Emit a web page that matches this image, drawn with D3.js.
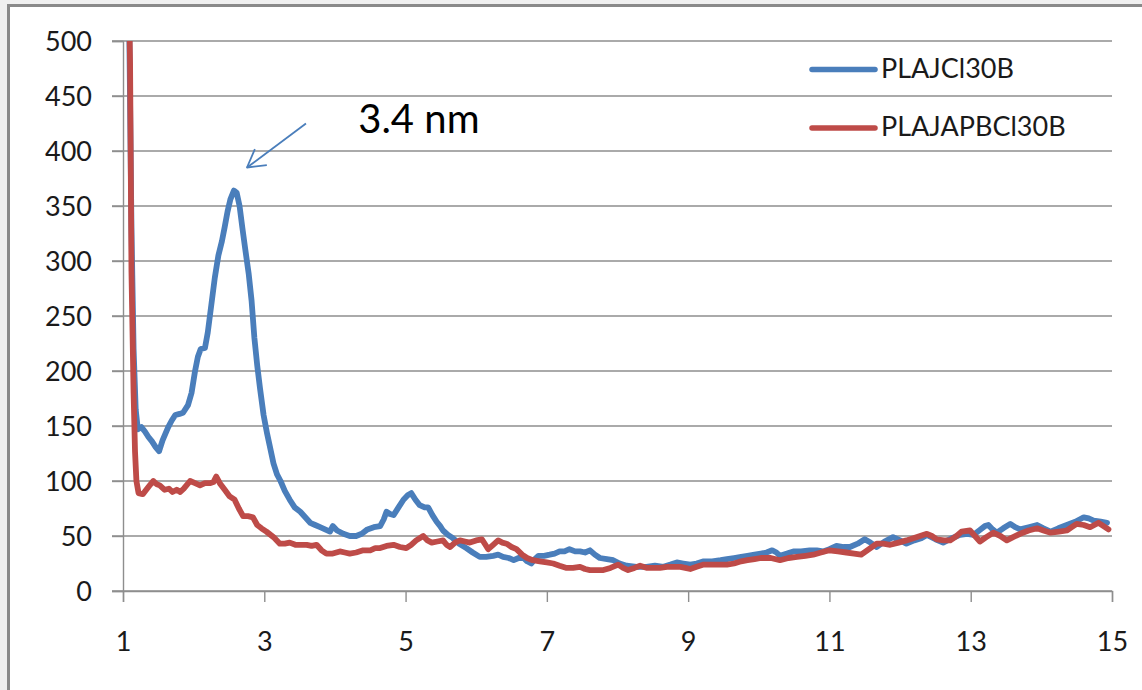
<!DOCTYPE html>
<html>
<head>
<meta charset="utf-8">
<script src="https://cdn.jsdelivr.net/npm/d3@7"></script>
<style>
  body { margin: 0; background: #f0f0f0; }
  svg { display: block; font-family: Lato, "Open Sans", sans-serif; }
</style>
</head>
<body>
<svg id="chart"></svg>
<script>
// series values, [x, y]
var blueData = [[1.08,560],[1.12,330],[1.15,220],[1.18,165],[1.21,147],[1.26,149],[1.31,145],[1.36,140],[1.41,136],[1.46,131],[1.51,127],[1.56,137],[1.64,149],[1.69,155],[1.74,160],[1.80,161],[1.85,162],[1.92,169],[1.97,180],[2.02,200],[2.06,213],[2.10,220],[2.16,221],[2.20,235],[2.25,260],[2.30,285],[2.35,305],[2.40,318],[2.44,331],[2.48,345],[2.52,356],[2.57,364],[2.61,362],[2.65,350],[2.69,330],[2.73,311],[2.78,288],[2.82,264],[2.86,230],[2.90,205],[2.94,184],[2.99,160],[3.04,143],[3.09,128],[3.13,116],[3.18,106],[3.23,100],[3.29,91],[3.36,83],[3.43,76],[3.51,72],[3.58,67],[3.65,62],[3.72,60],[3.79,58],[3.86,56],[3.93,54],[3.97,59],[4.03,55],[4.12,52],[4.21,50],[4.30,50],[4.38,52],[4.46,56],[4.55,58],[4.64,59],[4.69,65],[4.73,72],[4.78,70],[4.83,69],[4.90,76],[4.97,83],[5.03,87],[5.08,89],[5.14,83],[5.20,78],[5.27,76],[5.32,76],[5.38,69],[5.44,63],[5.49,59],[5.53,55],[5.60,51],[5.67,48],[5.76,43],[5.86,39],[5.95,35],[6.05,31],[6.14,31],[6.24,32],[6.31,33],[6.38,31],[6.46,30],[6.53,28],[6.60,30],[6.67,30],[6.72,27],[6.78,25],[6.83,29],[6.88,32],[6.96,32],[7.04,33],[7.11,34],[7.18,36],[7.25,36],[7.32,38],[7.40,36],[7.47,36],[7.54,35],[7.61,37],[7.68,33],[7.75,30],[7.85,29],[7.94,28],[8.03,25],[8.13,23],[8.27,22],[8.41,22],[8.53,23],[8.65,22],[8.75,24],[8.84,26],[8.93,25],[9.03,24],[9.12,25],[9.22,27],[9.34,27],[9.46,28],[9.55,29],[9.65,30],[9.75,31],[9.84,32],[9.94,33],[10.03,34],[10.11,35],[10.19,37],[10.25,35],[10.30,32],[10.40,34],[10.49,36],[10.60,36],[10.72,37],[10.82,37],[10.91,36],[11.00,38],[11.10,41],[11.20,40],[11.29,40],[11.40,43],[11.50,47],[11.58,44],[11.67,40],[11.78,45],[11.90,49],[12.00,46],[12.09,43],[12.20,46],[12.30,48],[12.38,51],[12.50,47],[12.61,44],[12.73,48],[12.85,51],[12.95,52],[13.04,51],[13.12,55],[13.20,59],[13.25,60],[13.31,56],[13.37,53],[13.46,57],[13.56,61],[13.63,58],[13.70,56],[13.82,58],[13.94,60],[14.03,57],[14.13,54],[14.24,57],[14.36,60],[14.48,63],[14.60,67],[14.67,66],[14.74,64],[14.84,63],[14.93,62]]

var redData = [[1.07,600],[1.10,480],[1.12,290],[1.15,180],[1.17,127],[1.19,100],[1.22,89],[1.28,88],[1.34,93],[1.39,97],[1.43,100],[1.48,97],[1.52,96],[1.59,92],[1.65,93],[1.70,90],[1.76,92],[1.81,90],[1.86,93],[1.95,100],[2.02,98],[2.09,96],[2.16,98],[2.23,98],[2.28,99],[2.32,104],[2.37,98],[2.44,92],[2.51,86],[2.58,83],[2.64,75],[2.70,68],[2.77,68],[2.84,67],[2.90,60],[2.96,57],[3.03,54],[3.13,49],[3.22,43],[3.29,43],[3.36,44],[3.44,42],[3.51,42],[3.60,42],[3.67,41],[3.74,42],[3.81,37],[3.88,34],[3.97,34],[4.07,36],[4.14,35],[4.21,34],[4.30,35],[4.40,37],[4.50,37],[4.57,39],[4.64,39],[4.73,41],[4.83,42],[4.92,40],[5.01,39],[5.08,42],[5.15,46],[5.25,50],[5.31,46],[5.37,44],[5.45,45],[5.53,46],[5.58,42],[5.63,40],[5.70,44],[5.77,46],[5.84,45],[5.91,44],[6.00,46],[6.08,47],[6.13,42],[6.17,38],[6.24,42],[6.31,46],[6.37,44],[6.43,43],[6.50,40],[6.57,38],[6.65,33],[6.72,30],[6.80,28],[6.90,27],[7.00,26],[7.09,25],[7.18,23],[7.28,21],[7.37,21],[7.47,22],[7.54,20],[7.61,19],[7.70,19],[7.80,19],[7.90,21],[8.01,24],[8.08,21],[8.15,19],[8.24,21],[8.32,23],[8.42,21],[8.51,21],[8.60,21],[8.70,22],[8.80,22],[8.89,22],[8.96,21],[9.03,20],[9.12,22],[9.22,24],[9.34,24],[9.46,24],[9.55,24],[9.65,25],[9.75,27],[9.84,28],[9.94,29],[10.03,30],[10.17,30],[10.30,28],[10.42,30],[10.54,31],[10.66,32],[10.77,33],[10.88,35],[11.00,37],[11.12,36],[11.24,35],[11.35,34],[11.45,33],[11.56,38],[11.67,43],[11.76,43],[11.86,42],[11.98,44],[12.09,46],[12.24,49],[12.38,52],[12.45,50],[12.52,47],[12.62,46],[12.71,46],[12.80,50],[12.87,54],[12.99,55],[13.06,50],[13.13,45],[13.22,49],[13.32,53],[13.42,50],[13.51,46],[13.60,49],[13.70,52],[13.82,55],[13.94,57],[14.03,55],[14.13,53],[14.25,54],[14.36,55],[14.43,58],[14.50,61],[14.60,60],[14.69,58],[14.75,60],[14.81,62],[14.88,59],[14.95,56]]

var seriesNames = ["PLAJCl30B", "PLAJAPBCl30B"]
var seriesColors = ["#4a7ebb", "#be4b48"]
var xTicks = [1, 3, 5, 7, 9, 11, 13, 15]
var yTicks = [0, 50, 100, 150, 200, 250, 300, 350, 400, 450, 500]
var peakLabel = "3.4 nm"

var W = 1142, H = 690
var svg = d3.select("#chart").attr("width", W).attr("height", H)

// chart area frame
svg.append("rect")
  .attr("x", 8.5).attr("y", 5.5)
  .attr("width", W + 20).attr("height", H + 20)
  .attr("fill", "white")
  .attr("stroke", "#8a8a8a")
  .attr("stroke-width", 3)

var xScale = d3.scaleLinear().domain([1, 15]).range([123, 1112])
var yScale = d3.scaleLinear().domain([0, 500]).range([591, 41])

var gridColor = "#8e8e8e"

// horizontal gridlines
svg.append("g")
  .selectAll("line")
  .data(yTicks)
  .join("line")
  .attr("x1", 112).attr("x2", xScale(15))
  .attr("y1", d => yScale(d)).attr("y2", d => yScale(d))
  .attr("stroke", gridColor)
  .attr("stroke-width", 1.4)

var yAxis = svg.append("g")
  .attr("transform", `translate(${xScale(1)},0)`)
  .call(d3.axisLeft(yScale).tickValues(yTicks).tickSize(11).tickPadding(20))
yAxis.select(".domain").attr("stroke", gridColor).attr("stroke-width", 1.4)
yAxis.selectAll(".tick line").attr("stroke", gridColor).attr("stroke-width", 1.4)
yAxis.selectAll("text")
  .attr("font-size", 27).attr("font-family", "Lato, sans-serif")
  .attr("fill", "#1a1a1a").attr("dy", "0.36em")

var xAxis = svg.append("g")
  .attr("transform", `translate(0,${yScale(0)})`)
  .call(d3.axisBottom(xScale).tickValues(xTicks).tickSize(11))
xAxis.select(".domain").attr("stroke", gridColor).attr("stroke-width", 1.4)
xAxis.selectAll(".tick line").attr("stroke", gridColor).attr("stroke-width", 1.4)
xAxis.selectAll("text")
  .attr("font-size", 27).attr("font-family", "Lato, sans-serif")
  .attr("fill", "#1a1a1a").attr("y", 60).attr("dy", 0)

// clip lines to the plot area
svg.append("clipPath").attr("id", "plotClip")
  .append("rect")
  .attr("x", xScale(1)).attr("y", yScale(500))
  .attr("width", xScale(15) - xScale(1) + 10)
  .attr("height", yScale(0) - yScale(500))

var line = d3.line()
  .x(d => xScale(d[0]))
  .y(d => yScale(d[1]))

var lines = svg.append("g").attr("clip-path", "url(#plotClip)")
;[blueData, redData].forEach(function (data, i) {
  lines.append("path")
    .datum(data)
    .attr("d", line)
    .attr("fill", "none")
    .attr("stroke", seriesColors[i])
    .attr("stroke-width", 5.8)
    .attr("stroke-linejoin", "round")
    .attr("stroke-linecap", "round")
})

// legend
var legend = svg.append("g")
seriesNames.forEach(function (name, i) {
  var ly = 69.5 + i * 58.5
  legend.append("line")
    .attr("x1", 812).attr("x2", 875)
    .attr("y1", ly).attr("y2", ly)
    .attr("stroke", seriesColors[i])
    .attr("stroke-width", 5.5)
    .attr("stroke-linecap", "round")
  legend.append("text")
    .attr("x", 881).attr("y", ly + 8)
    .attr("font-size", 27)
    .attr("fill", "#1a1a1a")
    .text(name)
})

// peak annotation
var arrowStart = [3.59, 425], arrowTip = [2.755, 385]
var sx = xScale(arrowStart[0]), sy = yScale(arrowStart[1])
var tx = xScale(arrowTip[0]), ty = yScale(arrowTip[1])
var ang = Math.atan2(sy - ty, sx - tx)
var head = 20, spread = Math.PI / 6
svg.append("line")
  .attr("x1", sx).attr("y1", sy).attr("x2", tx).attr("y2", ty)
  .attr("stroke", "#4a7ebb").attr("stroke-width", 1.8)
svg.append("path")
  .attr("d", d3.line()([
    [tx + head * Math.cos(ang - spread), ty + head * Math.sin(ang - spread)],
    [tx, ty],
    [tx + head * Math.cos(ang + spread), ty + head * Math.sin(ang + spread)]
  ]))
  .attr("fill", "none")
  .attr("stroke", "#4a7ebb").attr("stroke-width", 1.8)
  .attr("stroke-linejoin", "round")

svg.append("text")
  .attr("x", xScale(4.33)).attr("y", yScale(416))
  .attr("font-size", 40)
  .attr("fill", "#000")
  .text(peakLabel)
</script>
</body>
</html>
